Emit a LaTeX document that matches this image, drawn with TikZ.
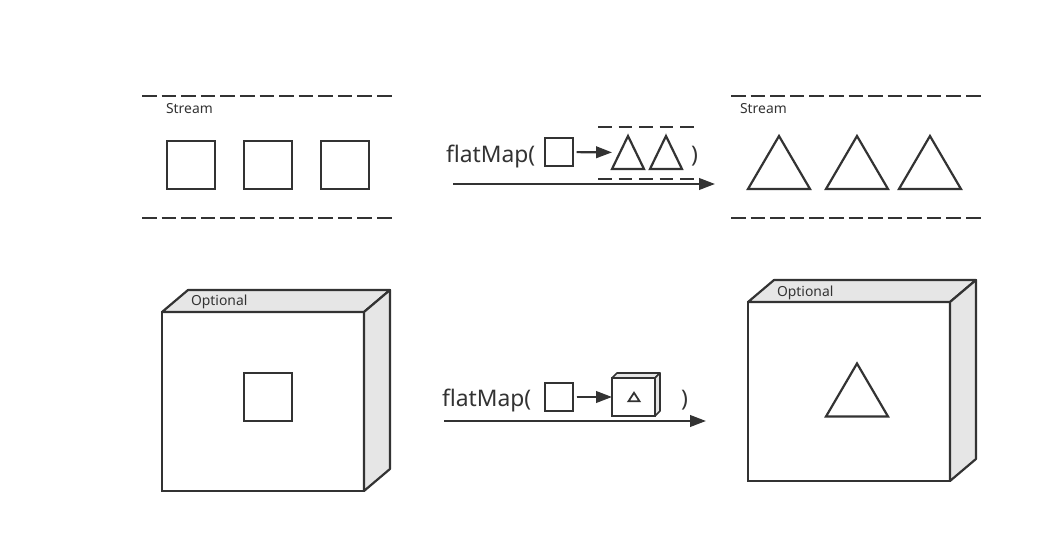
\documentclass[tikz,border=0pt]{standalone}
\usepackage{fontspec}
\setmainfont{Noto Sans}
\usetikzlibrary{arrows.meta,positioning}
\definecolor{ink}{HTML}{333333}
\definecolor{side}{HTML}{E6E6E6}

\begin{document}
\begin{tikzpicture}[
            x=0.02cm, y=-0.02cm,
            line width=1.25pt, draw=ink,
            box/.style={rectangle, draw=ink, fill=white, inner sep=0pt, outer sep=0pt, minimum size=0.96cm},
            smallbox/.style={box, minimum size=0.56cm},
            tri/.style={rectangle, inner sep=0pt, outer sep=0pt, minimum width=1.24cm, minimum height=1.06cm},
            minitri/.style={tri, minimum width=0.64cm, minimum height=0.66cm},
            front/.style={rectangle, draw=ink, fill=white, inner sep=0pt, outer sep=0pt},
            face/.style={draw=ink, fill=side, line join=round},
            lane/.style={draw=ink, dash pattern=on 8.3pt off 2.85pt},
            minilane/.style={draw=ink, dash pattern=on 7.7pt off 3.97pt},
            arrow/.style={-{Triangle[length=9pt,width=6.5pt]}, draw=ink, fill=ink},
            small/.style={font=\fontsize{7.9}{9}\selectfont, text=ink, inner sep=0pt},
            call/.style={font=\fontsize{13}{15}\selectfont, text=ink, inner sep=0pt}
        ]
            \useasboundingbox (0,0) rectangle (1045,553);

            % Stream of squares
            \draw[lane] (142,96) -- (392,96);
            \draw[lane] (142,218) -- (392,218);
            \node[small, anchor=west] (st1) at (165,109) {Stream};
            \node[box] (sq1) at (191,165) {};
            \node[box, right=0.58cm of sq1] (sq2) {};
            \node[box, right=0.58cm of sq2] (sq3) {};

            % flatMap on a stream
            \node[call, anchor=base west] (fm1) at (445,163) {flatMap(};
            \node[smallbox] (sqa) at (559,152) {};
            \draw[minilane] (598,127) -- (694,127);
            \draw[minilane] (598,179) -- (694,179);
            \node[minitri] (mt1) at (628,152.5) {};
            \node[minitri, right=0.12cm of mt1] (mt2) {};
            \node[call, anchor=base west] (cl1) at (690,163) {)};
            \draw[arrow, shorten <=2pt] (sqa) -- (mt1);
            \coordinate (a1s) at (453,184);
            \coordinate (a1e) at (715,184);
            \draw[arrow] (a1s) -- (a1e);

            % Stream of triangles
            \draw[lane] (731,96) -- (981,96);
            \draw[lane] (731,218) -- (981,218);
            \node[small, anchor=west] (st2) at (739,109) {Stream};
            \node[tri] (tr1) at (779,162.5) {};
            \node[tri, right=0.32cm of tr1] (tr2) {};
            \node[tri, right=0.22cm of tr2] (tr3) {};

            % Optional with a square
            \node[front, minimum width=4.04cm, minimum height=3.58cm] (opt1) at (263,401.5) {};
            \draw[face] (opt1.north west) -- ++(26,-22) -- ([shift={(26,-22)}]opt1.north east) -- (opt1.north east) -- cycle;
            \draw[face] (opt1.north east) -- ++(26,-22) -- ([shift={(26,-22)}]opt1.south east) -- (opt1.south east) -- cycle;
            \node[small, anchor=base west] (ol1) at (190,306) {Optional};
            \node[box] (sq4) at (268,397) {};

            % flatMap on an optional
            \node[call, anchor=base west] (fm2) at (441,407) {flatMap(};
            \node[smallbox] (sqb) at (559,397) {};
            \node[front, minimum width=0.86cm, minimum height=0.76cm] (cube) at (633.5,397) {};
            \draw[face, line width=0.9pt] (cube.north west) -- ++(5,-5) -- ([shift={(5,-5)}]cube.north east) -- (cube.north east) -- cycle;
            \draw[face, line width=0.9pt] (cube.north east) -- ++(5,-5) -- ([shift={(5,-5)}]cube.south east) -- (cube.south east) -- cycle;
            \node[tri, minimum width=0.22cm, minimum height=0.17cm] (tt) at (634,397) {};
            \node[call, anchor=base west] (cl2) at (680,407) {)};
            \draw[arrow, shorten <=2pt] (sqb) -- (cube);
            \coordinate (a2s) at (444,421);
            \coordinate (a2e) at (706,421);
            \draw[arrow] (a2s) -- (a2e);

            % Optional with a triangle
            \node[front, minimum width=4.04cm, minimum height=3.58cm] (opt2) at (849,391.5) {};
            \draw[face] (opt2.north west) -- ++(26,-22) -- ([shift={(26,-22)}]opt2.north east) -- (opt2.north east) -- cycle;
            \draw[face] (opt2.north east) -- ++(26,-22) -- ([shift={(26,-22)}]opt2.south east) -- (opt2.south east) -- cycle;
            \node[small, anchor=base west] (ol2) at (776,296.5) {Optional};
            \node[tri] (tr4) at (857,390) {};

            % Triangles drawn in their boxes
            \foreach \t in {mt1,mt2,tr1,tr2,tr3,tr4}
                \draw[line join=miter] (\t.south west) -- (\t.north) -- (\t.south east) -- cycle;
            \draw[line width=1pt] (tt.south west) -- (tt.north) -- (tt.south east) -- cycle;
        \end{tikzpicture}
\end{document}
